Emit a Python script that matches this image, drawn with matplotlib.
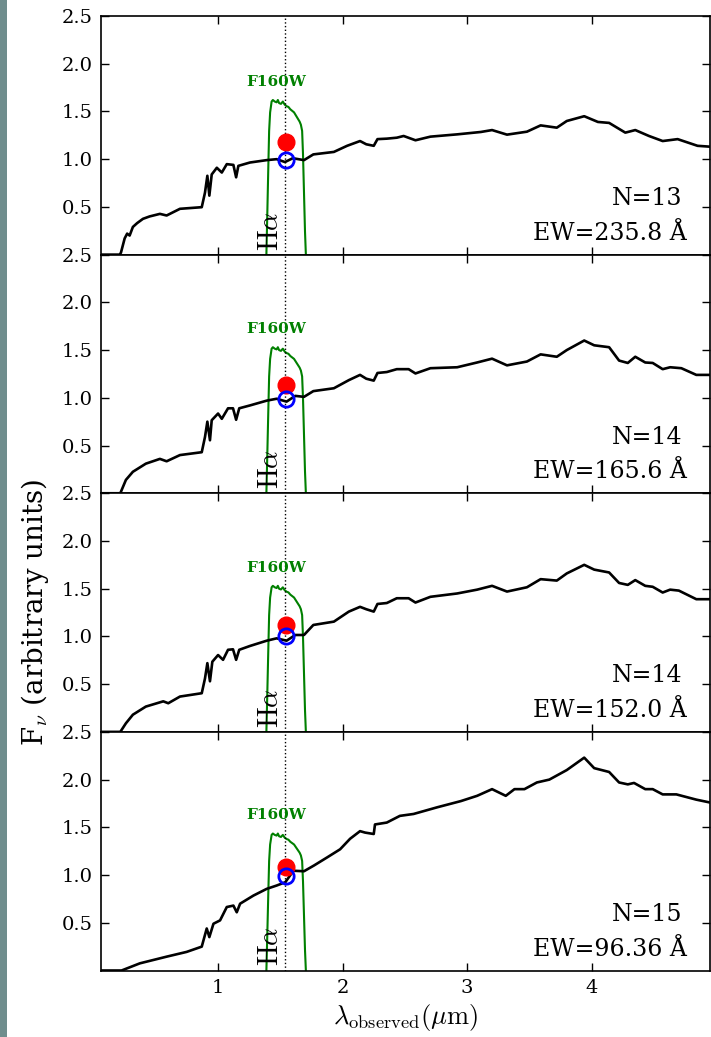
import matplotlib
matplotlib.use('Agg')
import matplotlib.pyplot as plt
from matplotlib.patches import Rectangle

plt.rcParams['font.family'] = ['DejaVu Serif']
plt.rcParams['mathtext.fontset'] = 'cm'

# ---------------- data ----------------
wave1 = [0.06, 0.21, 0.22, 0.25, 0.27, 0.29, 0.316, 0.35, 0.397, 0.45, 0.533, 0.587, 0.694, 0.869,
         0.895, 0.914, 0.930, 0.949, 0.99, 1.03, 1.07, 1.123, 1.145, 1.163, 1.256, 1.39, 1.47,
         1.537, 1.60, 1.69, 1.765, 1.93, 2.036, 2.14, 2.19, 2.25, 2.28, 2.355, 2.435, 2.49, 2.585,
         2.705, 2.92, 3.11, 3.2, 3.32, 3.48, 3.59, 3.72, 3.80, 3.94, 4.05, 4.14, 4.27, 4.35, 4.46,
         4.57, 4.69, 4.85, 4.96]
flux1 = [0.0, 0.0, 0.02, 0.17, 0.22, 0.20, 0.29, 0.33, 0.375, 0.40, 0.427, 0.41, 0.48, 0.497,
         0.65, 0.826, 0.618, 0.84, 0.91, 0.86, 0.948, 0.94, 0.81, 0.93, 0.965, 0.99, 1.0,
         0.97, 1.01, 0.99, 1.05, 1.076, 1.14, 1.19, 1.156, 1.14, 1.21, 1.215, 1.225, 1.243, 1.198,
         1.236, 1.26, 1.285, 1.305, 1.257, 1.288, 1.354, 1.33, 1.40, 1.45, 1.39, 1.38, 1.278, 1.305, 1.243,
         1.19, 1.21, 1.14, 1.13]

wave2 = [0.06, 0.215, 0.26, 0.316, 0.42, 0.533, 0.587, 0.694, 0.869, 0.895, 0.914, 0.935, 0.949, 1.0,
         1.03, 1.08, 1.12, 1.145, 1.17, 1.256, 1.39, 1.47, 1.55, 1.62, 1.69, 1.765, 1.93, 2.05,
         2.14, 2.19, 2.25, 2.28, 2.355, 2.435, 2.53, 2.585, 2.705, 2.92, 3.08, 3.2, 3.32, 3.48,
         3.59, 3.72, 3.80, 3.94, 4.02, 4.14, 4.22, 4.29, 4.35, 4.43, 4.49, 4.57, 4.63, 4.72, 4.84, 4.96]
flux2 = [0.0, 0.0, 0.14, 0.225, 0.31, 0.36, 0.335, 0.40, 0.43, 0.59, 0.75, 0.555, 0.765, 0.835,
         0.78, 0.89, 0.89, 0.77, 0.89, 0.92, 0.97, 0.99, 0.96, 1.02, 1.01, 1.07, 1.10, 1.185,
         1.24, 1.20, 1.18, 1.26, 1.27, 1.30, 1.30, 1.255, 1.31, 1.32, 1.37, 1.41, 1.34, 1.38,
         1.455, 1.43, 1.50, 1.60, 1.55, 1.53, 1.39, 1.365, 1.43, 1.37, 1.365, 1.30, 1.32, 1.31, 1.24, 1.24]

wave3 = [0.06, 0.215, 0.26, 0.316, 0.42, 0.56, 0.60, 0.694, 0.869, 0.895, 0.914, 0.935, 0.954, 1.0,
         1.04, 1.08, 1.12, 1.145, 1.17, 1.256, 1.39, 1.47, 1.55, 1.62, 1.69, 1.765, 1.93, 2.05,
         2.14, 2.19, 2.25, 2.28, 2.355, 2.435, 2.53, 2.585, 2.705, 2.92, 3.08, 3.2, 3.32, 3.48,
         3.59, 3.72, 3.80, 3.94, 4.02, 4.14, 4.22, 4.29, 4.35, 4.43, 4.49, 4.57, 4.63, 4.70, 4.84, 4.96]
flux3 = [0.0, 0.0, 0.09, 0.18, 0.265, 0.32, 0.30, 0.37, 0.405, 0.56, 0.72, 0.53, 0.735, 0.805,
         0.755, 0.86, 0.865, 0.755, 0.86, 0.90, 0.955, 0.98, 0.955, 1.015, 1.015, 1.12, 1.155, 1.26,
         1.31, 1.285, 1.26, 1.34, 1.35, 1.40, 1.40, 1.355, 1.415, 1.45, 1.49, 1.53, 1.47, 1.515,
         1.60, 1.585, 1.66, 1.75, 1.70, 1.67, 1.56, 1.54, 1.59, 1.53, 1.52, 1.46, 1.49, 1.48, 1.39, 1.39]

wave4 = [0.06, 0.225, 0.372, 0.587, 0.748, 0.869, 0.909, 0.93, 0.963, 1.016, 1.07, 1.123, 1.15, 1.177,
         1.284, 1.39, 1.47, 1.54, 1.605, 1.69, 1.77, 1.876, 1.98, 2.06, 2.14, 2.18, 2.25, 2.26,
         2.355, 2.46, 2.57, 2.76, 2.95, 3.08, 3.2, 3.31, 3.38, 3.46, 3.56, 3.66, 3.80, 3.94,
         4.02, 4.14, 4.22, 4.29, 4.34, 4.43, 4.49, 4.57, 4.68, 4.84, 4.95]
flux4 = [0.0, 0.0, 0.075, 0.145, 0.195, 0.25, 0.44, 0.35, 0.49, 0.525, 0.665, 0.68, 0.61, 0.70,
         0.785, 0.855, 0.89, 0.925, 1.045, 1.04, 1.10, 1.185, 1.27, 1.38, 1.46, 1.445, 1.43, 1.53,
         1.55, 1.62, 1.64, 1.71, 1.775, 1.83, 1.90, 1.83, 1.90, 1.90, 1.97, 2.0, 2.10, 2.23,
         2.12, 2.08, 1.97, 1.95, 1.965, 1.90, 1.90, 1.845, 1.845, 1.79, 1.76]

waves = [wave1, wave2, wave3, wave4]
fluxes = [flux1, flux2, flux3, flux4]

# F160W filter throughput (relative) and its plotted peak per panel
filter_wave = [1.388, 1.395, 1.403, 1.41, 1.418, 1.43, 1.44, 1.455, 1.47, 1.48, 1.49, 1.505, 1.52,
               1.535, 1.55, 1.565, 1.58, 1.595, 1.61, 1.625, 1.64, 1.655, 1.665, 1.675, 1.682,
               1.69, 1.698, 1.705]
filter_rel = [0.0, 0.25, 0.55, 0.80, 0.92, 0.99, 1.0, 0.99, 0.985, 1.0, 0.98, 0.975, 0.99,
              0.97, 0.96, 0.955, 0.94, 0.93, 0.92, 0.90, 0.88, 0.86, 0.84, 0.80, 0.65,
              0.40, 0.15, 0.0]
filter_peak = [1.62, 1.53, 1.53, 1.435]

halpha_wave = 1.54
phot_wave = 1.545
phot_with_line = [1.18, 1.13, 1.12, 1.08]
phot_no_line = [0.99, 0.99, 1.0, 0.995]

n_gal = [13, 14, 14, 15]
ew_labels = ['235.8', '165.6', '152.0', '96.36']

xticks = [1, 2, 3, 4]
yticks = [0.5, 1.0, 1.5, 2.0, 2.5]

# ---------------- figure ----------------
W, H = 711, 1037
fig = plt.figure(figsize=(W / 100, H / 100), dpi=100)
fig.patches.append(Rectangle((0, 0), 7 / W, 1, transform=fig.transFigure,
                             facecolor='#6f8d8d', edgecolor='none', zorder=-10))

gs = fig.add_gridspec(4, 1, left=101 / W, right=710 / W, top=1 - 16 / H,
                      bottom=1 - 970.5 / H, hspace=0)

axes = []
for i in range(4):
    ax = fig.add_subplot(gs[i])
    axes.append(ax)
    ax.plot(filter_wave, [r * filter_peak[i] for r in filter_rel], color='green', lw=1.5, zorder=2)
    ax.plot(waves[i], fluxes[i], color='black', lw=1.9, zorder=3)
    ax.axvline(halpha_wave, color='black', ls=':', lw=1.0, zorder=2.5)
    ax.plot([phot_wave], [phot_with_line[i]], 'o', color='red', ms=12, mec='red', zorder=4)
    ax.plot([phot_wave], [phot_no_line[i]], 'o', mfc='none', mec='blue', ms=11, mew=2, zorder=5)
    ax.text(1.47, filter_peak[i] + 0.19, 'F160W', color='green', fontweight='bold',
            fontsize=11, ha='center', va='center')
    ax.text(1.42, 0.25, r'$\mathrm{H}\alpha$', rotation=90, fontsize=20,
            ha='center', va='center')
    ax.text(0.955, 0.235, 'N=%d' % n_gal[i], transform=ax.transAxes, ha='right',
            va='center', fontsize=17)
    ax.text(0.962, 0.09, 'EW=%s Å' % ew_labels[i], transform=ax.transAxes, ha='right',
            va='center', fontsize=17)

    ax.set_xlim(0.06, 4.95)
    ax.set_ylim(0, 2.5)
    ax.set_xticks(xticks)
    ax.set_yticks(yticks)
    ax.set_yticklabels(['%.1f' % v for v in yticks])
    ax.tick_params(direction='in', top=True, right=True, length=6, width=1,
                   labelsize=14, pad=6)
    for s in ax.spines.values():
        s.set_linewidth(1.2)
    if i < 3:
        ax.tick_params(labelbottom=False)

axes[3].set_xticklabels([str(t) for t in xticks])
axes[3].set_xlabel(r'$\lambda_{\rm observed}(\mu{\rm m})$', fontsize=19, labelpad=4)

fig.text(35 / W, 1 - 612 / H, r'F$_\nu$ (arbitrary units)', rotation=90, fontsize=20,
         ha='center', va='center')

fig.savefig('out.png', dpi=100)
